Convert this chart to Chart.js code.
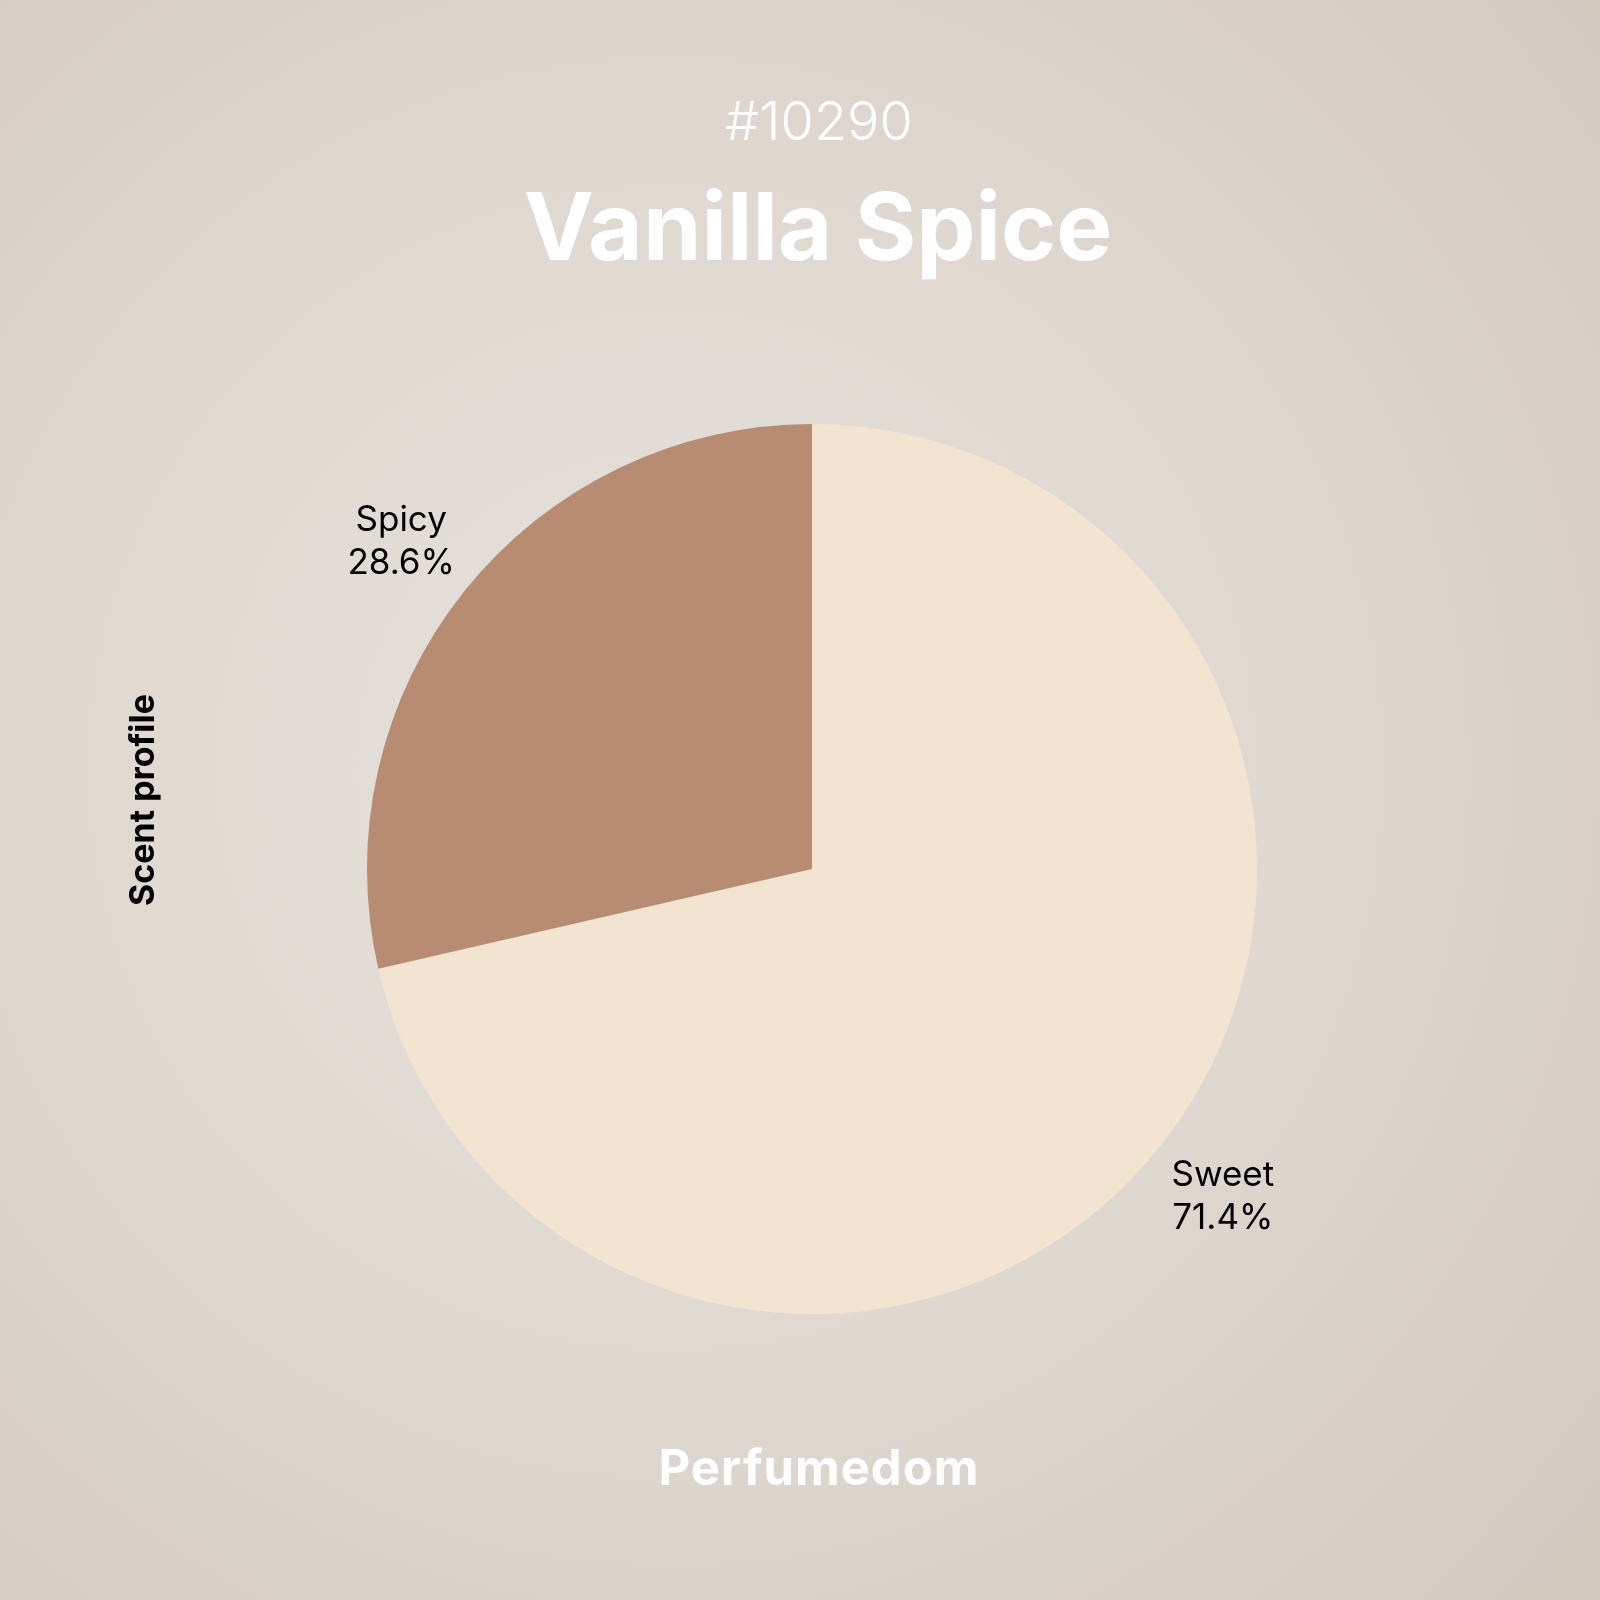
<!DOCTYPE html>
<html>
<head>
<meta charset="utf-8">
<script src="https://cdn.jsdelivr.net/npm/chart.js@4"></script>
<style>
  html, body { margin: 0; padding: 0; }
  body {
    width: 1600px; height: 1600px;
    background: radial-gradient(circle at 42% 48%, #e6e1db 0%, #dfd9d2 45%, #d2c9bf 100%);
  }
  #wrap { width: 1600px; height: 1600px; position: relative; }
</style>
</head>
<body>
<div id="wrap"><canvas id="pieCanvas" width="1600" height="1600"></canvas></div>
<script>
const categories = ['Sweet', 'Spicy'];
const shares = [71.4, 28.6];
const sliceColors = ['#f3e4d1', '#b88b73'];

const perfumeId = '#10290';
const perfumeName = 'Vanilla Spice';
const sideLabel = 'Scent profile';
const brand = 'Perfumedom';

const FONT = 'Inter, "Open Sans", sans-serif';

// text around the pie + labels outside each slice
const decorations = {
  id: 'decorations',
  afterDatasetsDraw(chart) {
    const ctx = chart.ctx;
    ctx.save();
    ctx.textAlign = 'center';
    ctx.textBaseline = 'middle';

    ctx.fillStyle = '#ffffff';
    ctx.font = '300 54px ' + FONT;
    ctx.fillText(perfumeId, 819, 124);
    ctx.font = '700 94px ' + FONT;
    ctx.fillText(perfumeName, 818, 232);
    ctx.font = '700 49px ' + FONT;
    ctx.letterSpacing = '1px';
    ctx.fillText(brand, 819, 1470);
    ctx.letterSpacing = '0px';

    ctx.fillStyle = '#000000';
    ctx.save();
    ctx.translate(144, 800);
    ctx.rotate(-Math.PI / 2);
    ctx.font = '700 34px ' + FONT;
    ctx.fillText(sideLabel, 0, 0);
    ctx.restore();

    const meta = chart.getDatasetMeta(0);
    const total = shares.reduce((a, b) => a + b, 0);
    ctx.font = '400 35px ' + FONT;
    meta.data.forEach((arc, i) => {
      const mid = (arc.startAngle + arc.endAngle) / 2;
      const r = arc.outerRadius * 1.18;
      const x = arc.x + Math.cos(mid) * r;
      const y = arc.y + Math.sin(mid) * r;
      ctx.fillText(categories[i], x, y - 21);
      ctx.fillText((shares[i] / total * 100).toFixed(1) + '%', x, y + 22);
    });
    ctx.restore();
  }
};

new Chart(document.getElementById('pieCanvas'), {
  type: 'pie',
  data: {
    labels: categories,
    datasets: [{
      data: shares,
      backgroundColor: sliceColors,
      borderWidth: 0
    }]
  },
  options: {
    responsive: false,
    animation: false,
    layout: { padding: { left: 367, right: 343, top: 424, bottom: 286 } },
    plugins: {
      legend: { display: false },
      tooltip: { enabled: false }
    }
  },
  plugins: [decorations]
});
</script>
</body>
</html>
